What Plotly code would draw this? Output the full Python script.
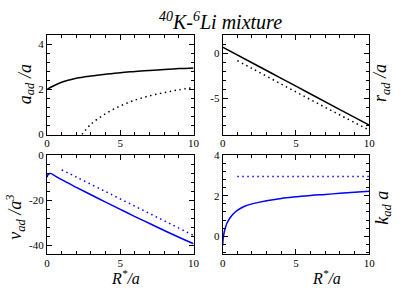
import plotly.graph_objects as go

# a_ad / a (top left)
r_a_solid = [0, 0.25, 0.5, 1, 1.5, 2, 3, 4, 5, 6, 7, 8, 9, 10]
a_ad_solid = [2.0, 2.1, 2.18, 2.32, 2.42, 2.5, 2.6, 2.68, 2.75, 2.8, 2.85, 2.89, 2.93, 2.96]
r_a_dot = [2.38, 3, 4, 5, 6, 7, 8, 9, 10]
a_ad_dot = [0.0, 0.46, 0.93, 1.27, 1.53, 1.72, 1.86, 1.99, 2.09]

# r_ad / a (top right)
r_r_solid = [0, 2, 4, 6, 8, 10]
r_ad_solid = [0.7, -1.03, -2.76, -4.5, -6.23, -7.95]
r_r_dot = [1, 2, 4, 6, 8, 10]
r_ad_dot = [-0.8, -1.66, -3.4, -5.13, -6.83, -8.5]

# v_ad / a^3 (bottom left)
r_v_solid = [0, 0.05, 0.1, 0.2, 0.3, 0.5, 1, 2, 3, 4, 5, 6, 7, 8, 9, 10]
v_ad_solid = [-9.7, -8.8, -8.3, -8.0, -8.1, -8.9, -10.8, -14.2, -17.5, -20.8,
              -24.0, -27.2, -30.3, -33.4, -36.4, -39.3]
r_v_dot = [1, 2, 4, 6, 8, 10]
v_ad_dot = [-6.4, -9.6, -16.1, -22.6, -29.1, -35.6]

# k_ad a (bottom right)
r_k_solid = [0, 0.02, 0.05, 0.1, 0.2, 0.3, 0.5, 0.75, 1, 1.5, 2, 3, 4, 5, 6, 7, 8, 9, 10]
k_ad_solid = [-0.46, -0.25, -0.05, 0.17, 0.45, 0.65, 0.9, 1.12, 1.28, 1.48, 1.6,
              1.76, 1.87, 1.95, 2.02, 2.07, 2.12, 2.17, 2.22]
r_k_dot = [1, 10]
k_ad_dot = [2.95, 2.95]

W, H = 399, 297
serif = "Liberation Serif"
fig = go.Figure()

def px_x(a, b):
    return [a / W, b / W]

def px_y(top, bottom):
    return [1 - bottom / H, 1 - top / H]

xdom_l = px_x(45, 195)
xdom_r = px_x(224.7, 374.7)
ydom_t = px_y(30.7, 134)
ydom_b = px_y(155.7, 258.8)

panels = [
    ("x", "y", r_a_solid, a_ad_solid, r_a_dot, a_ad_dot, "black"),
    ("x2", "y2", r_r_solid, r_ad_solid, r_r_dot, r_ad_dot, "black"),
    ("x3", "y3", r_v_solid, v_ad_solid, r_v_dot, v_ad_dot, "#0000ff"),
    ("x4", "y4", r_k_solid, k_ad_solid, r_k_dot, k_ad_dot, "#0000ff"),
]
for xa, ya, xs, ys, xd, yd, col in panels:
    fig.add_trace(go.Scatter(x=xs, y=ys, mode="lines", xaxis=xa, yaxis=ya,
                             line=dict(color=col, width=1.5, shape="spline"),
                             showlegend=False, hoverinfo="skip"))
    fig.add_trace(go.Scatter(x=xd, y=yd, mode="lines", xaxis=xa, yaxis=ya,
                             line=dict(color=col, width=1.5, dash="1.5px,3.5px", shape="spline"),
                             showlegend=False, hoverinfo="skip"))

tickfont = dict(family=serif, size=11, color="black")

def xaxis(dom, anchor):
    return dict(domain=dom, anchor=anchor, range=[0, 10], tickvals=[0, 5, 10],
                ticktext=["0", "5", "10"], ticks="inside", ticklen=5, tickcolor="black",
                showline=True, linecolor="black", linewidth=1, mirror="allticks",
                showgrid=False, zeroline=False, tickfont=tickfont, ticklabelstandoff=-2,
                minor=dict(dtick=1, ticks="inside", ticklen=3, tickcolor="black", showgrid=False))

def yaxis(dom, anchor, rng, vals, minor_dt):
    return dict(domain=dom, anchor=anchor, range=rng, tickvals=vals,
                ticktext=[str(v) for v in vals], ticks="inside", ticklen=5, tickcolor="black",
                showline=True, linecolor="black", linewidth=1, mirror="allticks",
                showgrid=False, zeroline=False, tickfont=tickfont,
                minor=dict(tick0=0, dtick=minor_dt, ticks="inside", ticklen=3,
                           tickcolor="black", showgrid=False))

fig.update_layout(
    width=W, height=H, margin=dict(l=0, r=0, t=0, b=0),
    paper_bgcolor="white", plot_bgcolor="white",
    font=dict(family=serif, color="black"),
    xaxis=xaxis(xdom_l, "y"), yaxis=yaxis(ydom_t, "x", [0, 4.4], [0, 2, 4], 0.4),
    xaxis2=xaxis(xdom_r, "y2"), yaxis2=yaxis(ydom_t, "x2", [-9, 2], [-5, 0], 1),
    xaxis3=xaxis(xdom_l, "y3"), yaxis3=yaxis(ydom_b, "x3", [-44, 0], [-40, -20, 0], 4),
    xaxis4=xaxis(xdom_r, "y4"), yaxis4=yaxis(ydom_b, "x4", [-0.9, 4], [0, 2, 4], 0.4),
)

labels = [
    ("<i><sup>40</sup>K-<sup>6</sup>Li mixture</i>", 223, 16, 0, 20),
    ("<i>a<sub>ad</sub> /a</i>", 24, 81, -90, 18),
    ("<i>r<sub>ad</sub> /a</i>", 388, 80, -90, 18),
    ("<i>v<sub>ad</sub> /a<sup>3</sup></i>", 12, 220, -90, 18),
    ("<i>k<sub>ad</sub> a</i>", 389, 210, -90, 18),
    ("<i>R<sup>*</sup>/a</i>", 125, 282, 0, 16),
    ("<i>R<sup>*</sup>/a</i>", 331, 282, 0, 16),
]
for text, x, y, ang, size in labels:
    fig.add_annotation(text=text, x=x / W, y=1 - y / H, xref="paper", yref="paper",
                       showarrow=False, textangle=ang, xanchor="center", yanchor="middle",
                       font=dict(family=serif, size=size, color="black"))

fig.write_html("out.html", config={"displayModeBar": False},
               post_script="document.body.style.margin='0';")
